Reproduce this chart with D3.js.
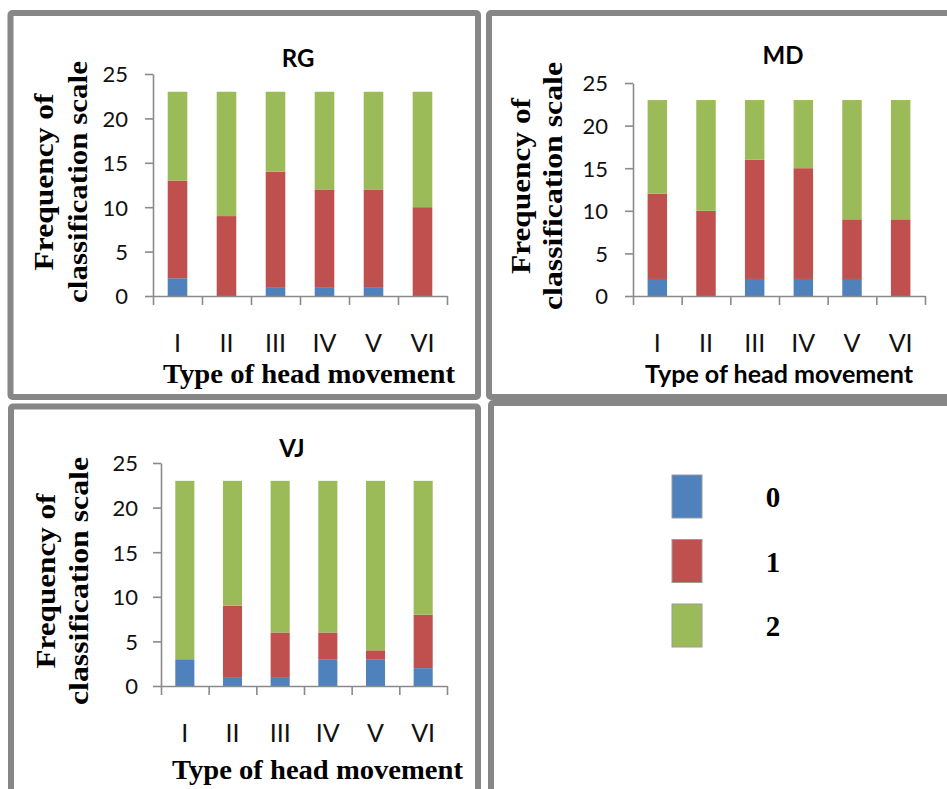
<!DOCTYPE html>
<html>
<head>
<meta charset="utf-8">
<script src="https://cdn.jsdelivr.net/npm/d3@7"></script>
<style>
  html, body { margin: 0; padding: 0; background: #ffffff; }
  svg { display: block; }
</style>
</head>
<body>
<svg id="chart" width="947" height="789"></svg>
<script>
// Head movement types on the x axis
const categories = ["I", "II", "III", "IV", "V", "VI"];
// Classification scale levels (stack order, bottom to top)
const scaleLevels = ["0", "1", "2"];
const yTicks = [0, 5, 10, 15, 20, 25];

// RG: frequency of each classification level per movement type
const rgLevel0 = [2, 0, 1, 1, 1, 0];
const rgLevel1 = [11, 9, 13, 11, 11, 10];
const rgLevel2 = [10, 14, 9, 11, 11, 13];

// MD
const mdLevel0 = [2, 0, 2, 2, 2, 0];
const mdLevel1 = [10, 10, 14, 13, 7, 9];
const mdLevel2 = [11, 13, 7, 8, 14, 14];

// VJ
const vjLevel0 = [3, 1, 1, 3, 3, 2];
const vjLevel1 = [0, 8, 5, 3, 1, 6];
const vjLevel2 = [20, 14, 17, 17, 19, 15];

const levelColor = d3.scaleOrdinal()
  .domain(scaleLevels)
  .range(["#4F81BD", "#C0504D", "#9BBB59"]);

const svg = d3.select("#chart");
const AXIS = "#8a8a8a";
const SANS = "Lato, 'Open Sans', sans-serif";
const SERIF = "'Liberation Serif', 'Times New Roman', serif";

// Panel frames
const frames = [
  { x: 10.5, y: 13, w: 467.5, h: 384 },
  { x: 489, y: 13, w: 470, h: 384 },
  { x: 11, y: 406.5, w: 467, h: 400 },
  { x: 491, y: 403, w: 470, h: 400 }
];
svg.selectAll("rect.frame").data(frames).join("rect")
  .attr("class", "frame")
  .attr("x", d => d.x).attr("y", d => d.y)
  .attr("width", d => d.w).attr("height", d => d.h)
  .attr("rx", 2)
  .attr("fill", "none")
  .attr("stroke", "#878787")
  .attr("stroke-width", 6);

// One stacked-column chart per subject
const panels = [
  {
    name: "RG", levels: [rgLevel0, rgLevel1, rgLevel2],
    x0: 153, x1: 447, yBase: 296, yTop: 74,
    titleX: 298, titleY: 67,
    yTitle: { cy: 182, b1: 53, b2: 87, len1: 177, len2: 242 },
    xTitle: { x0: 163, len: 292, base: 383, serif: true },
    tickPad: 17, labelBase: 352
  },
  {
    name: "MD", levels: [mdLevel0, mdLevel1, mdLevel2],
    x0: 633, x1: 925, yBase: 296, yTop: 83,
    titleX: 783, titleY: 64,
    yTitle: { cy: 186, b1: 530, b2: 562, len1: 176, len2: 248 },
    xTitle: { x0: 645, len: 268, base: 383, serif: false },
    tickPad: 17, labelBase: 352
  },
  {
    name: "VJ", levels: [vjLevel0, vjLevel1, vjLevel2],
    x0: 161, x1: 447, yBase: 686, yTop: 463,
    titleX: 292, titleY: 457,
    yTitle: { cy: 581, b1: 55, b2: 88, len1: 175, len2: 248 },
    xTitle: { x0: 172, len: 291, base: 779, serif: true },
    tickPad: 15, labelBase: 742
  }
];

panels.forEach(p => {
  const g = svg.append("g");

  const rows = categories.map((c, i) => {
    const r = { category: c };
    scaleLevels.forEach((k, j) => { r[k] = p.levels[j][i]; });
    return r;
  });
  const stacked = d3.stack().keys(scaleLevels)(rows);

  const x = d3.scaleBand()
    .domain(categories)
    .range([p.x0, p.x1])
    .paddingInner(0.6)
    .paddingOuter(0.3);
  const y = d3.scaleLinear().domain([0, 25]).range([p.yBase, p.yTop]);

  // stacked columns
  g.append("g").selectAll("g").data(stacked).join("g")
    .attr("fill", d => levelColor(d.key))
    .selectAll("rect").data(d => d).join("rect")
    .attr("x", d => x(d.data.category))
    .attr("width", x.bandwidth())
    .attr("y", d => y(d[1]))
    .attr("height", d => y(d[0]) - y(d[1]));

  // value axis
  const yAxis = g.append("g")
    .attr("transform", `translate(${p.x0},0)`)
    .call(d3.axisLeft(y).tickValues(yTicks).tickSize(8).tickSizeOuter(0).tickPadding(p.tickPad));
  yAxis.select(".domain").attr("stroke", AXIS).attr("stroke-width", 1.6);
  yAxis.selectAll(".tick line").attr("stroke", AXIS).attr("stroke-width", 1.6);
  yAxis.selectAll(".tick text")
    .attr("fill", "#111")
    .style("font-family", SANS)
    .style("font-size", "22px")
    .attr("dy", "0.36em");

  // category axis: tick marks at category boundaries
  const edge = d3.scaleLinear().domain([0, categories.length]).range([p.x0, p.x1]);
  const xAxis = g.append("g")
    .attr("transform", `translate(0,${p.yBase})`)
    .call(d3.axisBottom(edge).ticks(categories.length).tickSize(9).tickSizeOuter(0).tickFormat(""));
  xAxis.select(".domain").attr("stroke", AXIS).attr("stroke-width", 1.6);
  xAxis.selectAll(".tick line").attr("stroke", AXIS).attr("stroke-width", 1.6);

  // category labels
  const xLabels = g.append("g")
    .attr("transform", `translate(0,${p.labelBase})`)
    .call(d3.axisBottom(x).tickSize(0).tickPadding(0));
  xLabels.select(".domain").remove();
  xLabels.selectAll(".tick text")
    .attr("y", 0).attr("dy", 0)
    .attr("fill", "#111")
    .style("font-family", SANS)
    .style("font-size", "25px");

  // chart title
  g.append("text")
    .attr("x", p.titleX).attr("y", p.titleY)
    .attr("text-anchor", "middle")
    .style("font-family", SANS)
    .style("font-weight", "bold")
    .style("font-size", "24px")
    .text(p.name);

  // value axis title, two lines
  [["Frequency of", p.yTitle.b1, p.yTitle.len1], ["classification scale", p.yTitle.b2, p.yTitle.len2]]
    .forEach(([t, b, len]) => {
      g.append("text")
        .attr("transform", `translate(${b},${p.yTitle.cy}) rotate(-90)`)
        .attr("x", -len / 2)
        .attr("textLength", len)
        .attr("lengthAdjust", "spacingAndGlyphs")
        .style("font-family", SERIF)
        .style("font-weight", "bold")
        .style("font-size", "28px")
        .text(t);
    });

  // category axis title
  g.append("text")
    .attr("x", p.xTitle.x0).attr("y", p.xTitle.base)
    .attr("textLength", p.xTitle.len)
    .attr("lengthAdjust", "spacingAndGlyphs")
    .style("font-family", p.xTitle.serif ? SERIF : SANS)
    .style("font-weight", "bold")
    .style("font-size", p.xTitle.serif ? "28px" : "25px")
    .text("Type of head movement");
});

// Legend in the fourth panel
const legendY = d3.scalePoint().domain(scaleLevels).range([496.5, 625.5]);
const legend = svg.append("g");
legend.selectAll("rect").data(scaleLevels).join("rect")
  .attr("x", 672)
  .attr("y", d => legendY(d) - 21.5)
  .attr("width", 30).attr("height", 43)
  .attr("fill", d => levelColor(d))
  .attr("stroke", "#9a9a9a")
  .attr("stroke-width", 1);
legend.selectAll("text").data(scaleLevels).join("text")
  .attr("x", 773)
  .attr("y", d => legendY(d) + 10.5)
  .attr("text-anchor", "middle")
  .style("font-family", SERIF)
  .style("font-weight", "bold")
  .style("font-size", "29px")
  .text(d => d);
</script>
</body>
</html>
